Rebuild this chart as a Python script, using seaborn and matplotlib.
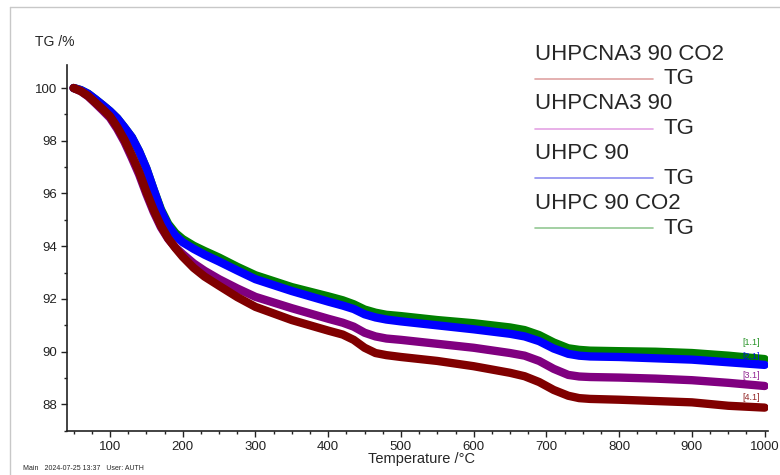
import numpy as np
import pandas as pd
import seaborn as sns
import matplotlib.pyplot as plt
from matplotlib.lines import Line2D
from matplotlib.ticker import MultipleLocator

# temperature grid (deg C) and TG values (%)
temp = [50, 60, 70, 80, 90, 100, 110, 120, 130, 140, 150, 160, 170, 180, 190,
        200, 215, 230, 250, 275, 300, 350, 400, 420, 435, 450, 465, 480, 500,
        550, 600, 650, 670, 690, 710, 730, 745, 760, 800, 850, 900, 950, 1000]

tg_uhpc90_co2 = [100.0, 99.92, 99.78, 99.57, 99.35, 99.12, 98.85, 98.5, 98.13, 97.6,
                 96.95, 96.15, 95.4, 94.85, 94.5, 94.27, 94.02, 93.82, 93.57, 93.22,
                 92.9, 92.45, 92.1, 91.95, 91.8, 91.6, 91.48, 91.4, 91.35,
                 91.2, 91.08, 90.92, 90.82, 90.63, 90.35, 90.13, 90.07, 90.04,
                 90.02, 90.0, 89.95, 89.85, 89.72]
tg_uhpc90 = [100.0, 99.92, 99.78, 99.57, 99.35, 99.12, 98.85, 98.5, 98.13, 97.6,
             96.95, 96.15, 95.35, 94.78, 94.4, 94.15, 93.9, 93.68, 93.42, 93.08,
             92.75, 92.3, 91.9, 91.75, 91.62, 91.42, 91.3, 91.22, 91.15,
             91.0, 90.85, 90.68, 90.58, 90.4, 90.12, 89.92, 89.85, 89.82,
             89.8, 89.75, 89.7, 89.6, 89.5]
tg_na3_90 = [100.0, 99.88, 99.68, 99.42, 99.15, 98.87, 98.45, 97.95, 97.35, 96.72,
             95.98, 95.3, 94.72, 94.28, 93.95, 93.7, 93.35, 93.07, 92.75, 92.4,
             92.08, 91.65, 91.25, 91.1, 90.95, 90.72, 90.58, 90.5, 90.45,
             90.3, 90.15, 89.95, 89.85, 89.65, 89.35, 89.12, 89.06, 89.04,
             89.02, 88.98, 88.92, 88.82, 88.7]
tg_na3_90_co2 = [100.0, 99.88, 99.7, 99.45, 99.2, 98.93, 98.52, 98.03, 97.45, 96.82,
                 96.07, 95.38, 94.78, 94.3, 93.93, 93.6, 93.18, 92.85, 92.5, 92.07,
                 91.7, 91.2, 90.8, 90.65, 90.45, 90.15, 89.95, 89.87, 89.8,
                 89.65, 89.45, 89.2, 89.07, 88.85, 88.55, 88.33, 88.24, 88.21,
                 88.18, 88.13, 88.08, 87.95, 87.88]

samples = ['UHPCNA3 90 CO2', 'UHPCNA3 90', 'UHPC 90', 'UHPC 90 CO2']
tags = ['[4.1]', '[3.1]', '[2.1]', '[1.1]']
tag_offsets = [4, 4, 3, 9]
curve_colors = ['#800000', '#800080', '#0000ff', '#008000']
legend_colors = ['#dfa3a3', '#e4a3e4', '#8c8cf0', '#94c894']
series = [tg_na3_90_co2, tg_na3_90, tg_uhpc90, tg_uhpc90_co2]

df = pd.concat([pd.DataFrame({'Temperature': temp, 'TG': v, 'sample': s})
                for s, v in zip(samples, series)], ignore_index=True)

sns.set_style('ticks')
plt.rcParams['font.family'] = ['Liberation Sans', 'DejaVu Sans']

fig = plt.figure(figsize=(7.8, 4.75), dpi=100)
ax = fig.add_axes([0.086, 0.093, 0.899, 0.77])

# green drawn first, dark red on top
order = samples[::-1]
pal = dict(zip(samples, curve_colors))
sns.lineplot(data=df, x='Temperature', y='TG', hue='sample', hue_order=order,
             palette=pal, linewidth=6, legend=False, ax=ax, sort=False,
             solid_joinstyle='round', solid_capstyle='round')

for v, c, t, off in zip(series, curve_colors, tags, tag_offsets):
    ax.annotate(t, (temp[-1], v[-1]), xytext=(-10, off), textcoords='offset points',
                color=c, fontsize=6.5, ha='center', va='bottom', alpha=0.85)

ax.set_xlim(41, 1005)
ax.set_ylim(87.0, 100.87)
ax.xaxis.set_minor_locator(MultipleLocator(25))
ax.yaxis.set_major_locator(MultipleLocator(2))
ax.yaxis.set_minor_locator(MultipleLocator(1))
ax.set_xticks(range(100, 1001, 100))
ax.tick_params(which='major', length=4, width=1, labelsize=9.5, pad=3, colors='#222222')
ax.tick_params(which='minor', length=2.5, width=1, colors='#222222')
for sp in ['left', 'bottom']:
    ax.spines[sp].set_linewidth(1.2)
    ax.spines[sp].set_color('#222222')
sns.despine(ax=ax)
ax.set_xlabel('')
ax.set_ylabel('')

fig.text(35 / 780, 1 - 42 / 475, 'TG /%', fontsize=10, va='center', ha='left')
fig.text(422 / 780, 1 - 459 / 475, 'Temperature /°C', fontsize=10.5, va='center', ha='center')
fig.text(23 / 780, 1 - 468 / 475, 'Main   2024-07-25 13:37   User: AUTH', fontsize=5, va='center', ha='left')

# legend block in the upper right
for i, (s, lc) in enumerate(zip(samples, legend_colors)):
    y_name = 1 - (54 + 49.7 * i) / 475
    y_tg = 1 - (79 + 49.7 * i) / 475
    fig.text(535 / 780, y_name, s, fontsize=16, va='center', ha='left')
    fig.add_artist(Line2D([535 / 780, 653 / 780], [y_tg, y_tg], color=lc, lw=1.2,
                          transform=fig.transFigure))
    fig.text(663 / 780, y_tg, 'TG', fontsize=16, va='center', ha='left')

# page frame lines
fig.add_artist(Line2D([10 / 780, 1], [1 - 7 / 475, 1 - 7 / 475], color='#c8c8c8', lw=1,
                      transform=fig.transFigure))
fig.add_artist(Line2D([10 / 780, 10 / 780], [0, 1 - 7 / 475], color='#c8c8c8', lw=1,
                      transform=fig.transFigure))

fig.savefig('out.png', dpi=100)
